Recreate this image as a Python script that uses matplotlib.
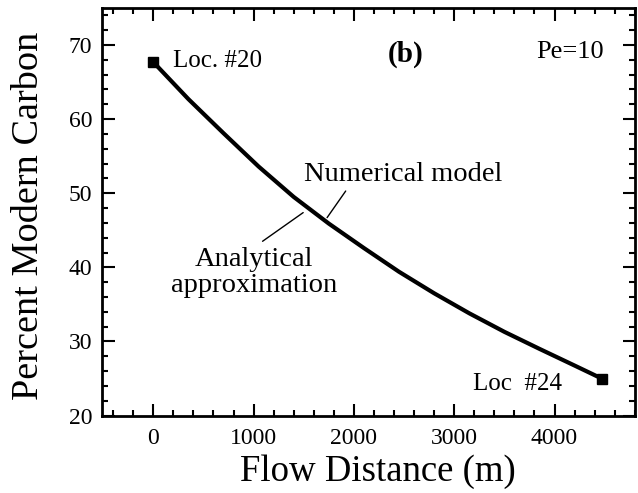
import numpy as np
import matplotlib
matplotlib.use("Agg")
import matplotlib.pyplot as plt
from matplotlib.ticker import MultipleLocator

# Кривая (числовая модель / аналитическое приближение)
flow_distance = [0, 350, 700, 1050, 1400, 1750, 2100, 2450, 2800, 3150, 3500, 3850, 4200, 4470]
percent_carbon = [67.7, 62.7, 58.1, 53.6, 49.5, 45.9, 42.6, 39.4, 36.5, 33.8, 31.3, 29.0, 26.75, 25.0]

# Точки наблюдений
loc_x = [0, 4470]
loc_y = [67.7, 25.0]

plt.rcParams['font.family'] = ['Liberation Serif', 'DejaVu Serif']

fig = plt.figure(figsize=(6.38, 4.93), dpi=100)
ax = fig.add_axes([0.16, 0.157, 0.835, 0.827])

ax.plot(flow_distance, percent_carbon, color='black', lw=3, solid_joinstyle='round')
ax.plot(loc_x, loc_y, 's', color='black', ms=7.5)

ax.set_xlim(-510, 4800)
ax.set_ylim(20, 75)
ax.xaxis.set_major_locator(MultipleLocator(1000))
ax.xaxis.set_minor_locator(MultipleLocator(200))
ax.yaxis.set_major_locator(MultipleLocator(10))
ax.yaxis.set_minor_locator(MultipleLocator(2))
ax.set_yticks([20, 30, 40, 50, 60, 70])
ax.tick_params(which='both', direction='in', top=True, right=True, width=1.5, labelsize=17)
ax.tick_params(which='major', length=9)
ax.tick_params(which='minor', length=4.5)
ax.tick_params(axis='x', pad=9)
ax.tick_params(axis='y', pad=7)
for s in ax.spines.values():
    s.set_linewidth(2)

ax.set_xlabel('Flow Distance (m)', fontsize=26.5)
ax.set_ylabel('Percent Modern Carbon', fontsize=27.5)
ax.xaxis.set_label_coords(0.518, -0.095)
ax.yaxis.set_label_coords(-0.105, 0.49)

# Подписи
ax.text(200, 67.8, 'Loc. #20', fontsize=18, va='center', ha='left')
ax.text(2517, 68.7, '(b)', fontsize=21, fontweight='bold', va='center', ha='center')
ax.text(4157, 69.1, 'Pe=10', fontsize=19, va='center', ha='center')
ax.text(3190, 24.2, 'Loc  #24', fontsize=18, va='center', ha='left')
ax.text(2487, 52.5, 'Numerical model', fontsize=20.5, va='center', ha='center')
ax.text(1007, 39.3, 'Analytical\napproximation', fontsize=20.5, va='center', ha='center',
        linespacing=1.05)

ax.annotate('', xy=(1717, 46.4), xytext=(1934, 50.6),
            arrowprops=dict(arrowstyle='-', color='black', lw=1))
ax.annotate('', xy=(1517, 47.6), xytext=(1067, 43.3),
            arrowprops=dict(arrowstyle='-', color='black', lw=1))

fig.savefig('out.png', dpi=100)
